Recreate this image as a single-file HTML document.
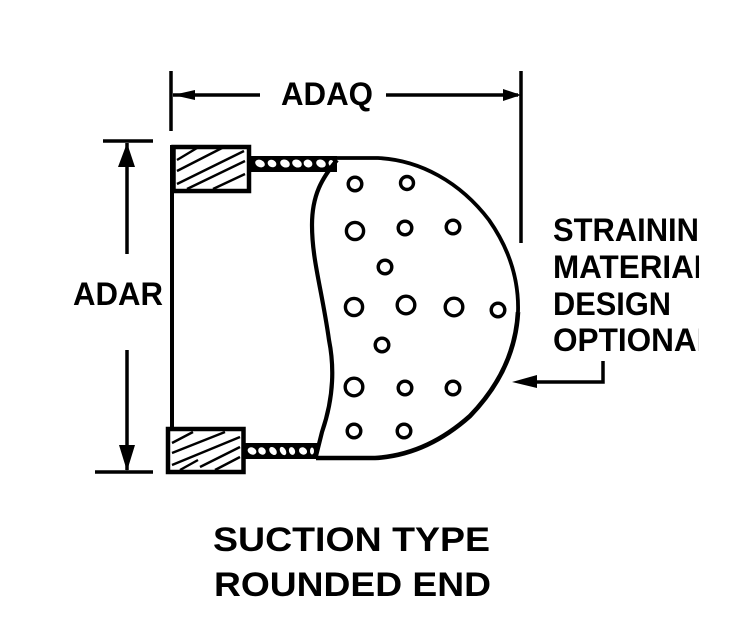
<!DOCTYPE html>
<html>
<head>
<meta charset="utf-8">
<style>
html,body{margin:0;padding:0;background:#fff;width:752px;height:633px;overflow:hidden}
svg{display:block}
text{font-family:"Liberation Sans",Arial,sans-serif;font-weight:700;font-size:32.500px;fill:#000}
</style>
</head>
<body>
<svg width="752" height="633" viewBox="0 0 752 633" xmlns="http://www.w3.org/2000/svg">
<defs>
<clipPath id="c"><rect x="540" y="200" width="159" height="170"/></clipPath>
</defs>

<!-- top dimension -->
<path d="M171 71V131M521 71V243" stroke="#000" stroke-width="3.500" fill="none"/>
<path d="M173 95H260M386 95H518" stroke="#000" stroke-width="3.500" fill="none"/>
<path d="M173 95L195 90V100ZM521 95L503 89V101Z" fill="#000"/>

<!-- left dimension -->
<path d="M103 141H153M95 472H153" stroke="#000" stroke-width="3.500" fill="none"/>
<path d="M127 143V254M127 350V470" stroke="#000" stroke-width="3.500" fill="none"/>
<path d="M127 143L118 167H135ZM127 471L119 445H135Z" fill="#000"/>

<!-- left wall -->
<path d="M172 145V430M171 430L168 472" stroke="#000" stroke-width="4" fill="none"/>

<!-- top hatched block -->
<rect x="173.500" y="147" width="75.500" height="44" fill="#fff" stroke="#000" stroke-width="4.500"/>
<g stroke="#000" stroke-width="2.400" fill="none">
<path d="M177 160L197 148M177 171L222 148M177 184L244 151M187 189L245 161M213 189L245 174"/>
</g>

<!-- bottom hatched block -->
<rect x="168" y="429" width="75.500" height="43" fill="#fff" stroke="#000" stroke-width="4.500"/>
<g stroke="#000" stroke-width="2.400" fill="none">
<path d="M172 443L193 432M172 453L225 432M172 465L240 437M180 470L198 460M200 467L240 447M215 470L240 457"/>
</g>

<!-- screen edge bands -->
<rect x="250" y="156" width="87" height="16" fill="#000"/>
<g fill="#fff">
<ellipse cx="260" cy="163.500" rx="5" ry="3.600" transform="rotate(25 260 163.500)"/>
<ellipse cx="272" cy="163.500" rx="4.500" ry="3.600" transform="rotate(25 272 163.500)"/>
<ellipse cx="285" cy="163.500" rx="5" ry="3.800" transform="rotate(25 285 163.500)"/>
<ellipse cx="297" cy="163.500" rx="5" ry="3.800" transform="rotate(25 297 163.500)"/>
<ellipse cx="308" cy="163.500" rx="4.500" ry="3.800" transform="rotate(25 308 163.500)"/>
<ellipse cx="321" cy="163.500" rx="5" ry="3.800" transform="rotate(25 321 163.500)"/>
<ellipse cx="331" cy="163" rx="2.500" ry="3"/>
</g>
<rect x="244" y="443" width="74" height="16" fill="#000"/>
<g fill="#fff">
<ellipse cx="252" cy="451" rx="4.500" ry="3.500" transform="rotate(25 252 451)"/>
<ellipse cx="262" cy="451" rx="4" ry="3.500" transform="rotate(40 262 451)"/>
<ellipse cx="273" cy="451" rx="4.500" ry="3.200" transform="rotate(50 273 451)"/>
<ellipse cx="283" cy="451" rx="4.500" ry="2.800" transform="rotate(60 283 451)"/>
<ellipse cx="292" cy="451" rx="4" ry="3" transform="rotate(70 292 451)"/>
<ellipse cx="303" cy="451" rx="4.200" ry="3.500" transform="rotate(30 303 451)"/>
<ellipse cx="312" cy="451" rx="2" ry="3.500"/>
</g>

<!-- rounded strainer -->
<path d="M336 158H378C420 160 460 182 489 220C510 250 519 280 518 312" fill="none" stroke="#000" stroke-width="3.800"/>
<path d="M518 312C516 350 500 385 470 416C442 441 410 456 375 458H316" fill="none" stroke="#000" stroke-width="4.600"/>
<path d="M337 160C322 178 312 195 312 225C312 260 322 290 329 340C335 370 333 400 322 432L316 456" fill="none" stroke="#000" stroke-width="4.200"/>

<!-- holes -->
<g fill="#fff" stroke="#000" stroke-width="3.400">
<circle cx="355" cy="184" r="6.800"/><circle cx="407" cy="183" r="6.500"/>
<circle cx="355" cy="231" r="8.600"/><circle cx="405" cy="228" r="6.800"/><circle cx="453" cy="227" r="6.800"/>
<circle cx="385" cy="267" r="6.800"/>
<circle cx="354" cy="307" r="8.600"/><circle cx="406" cy="305" r="8.800"/><circle cx="454" cy="307" r="8.800"/><circle cx="498" cy="310" r="6.800"/>
<circle cx="382" cy="345" r="6.800"/>
<circle cx="354" cy="387" r="8.800"/><circle cx="405" cy="388" r="6.800"/><circle cx="453" cy="388" r="6.800"/>
<circle cx="354" cy="431" r="6.800"/><circle cx="404" cy="431" r="6.800"/>
</g>

<!-- pointer -->
<path d="M603 361V382H535" stroke="#000" stroke-width="3.500" fill="none"/>
<path d="M512 382L537 375V388Z" fill="#000"/>

<!-- labels -->
<text x="281" y="105" textLength="92" lengthAdjust="spacingAndGlyphs">ADAQ</text>
<text x="73" y="305" textLength="90" lengthAdjust="spacingAndGlyphs">ADAR</text>
<g clip-path="url(#c)">
<text x="553" y="241" textLength="170" lengthAdjust="spacingAndGlyphs">STRAINING</text>
<text x="553" y="278" textLength="160" lengthAdjust="spacingAndGlyphs">MATERIAL</text>
<text x="553" y="315" textLength="118" lengthAdjust="spacingAndGlyphs">DESIGN</text>
<text x="553" y="351" textLength="163" lengthAdjust="spacingAndGlyphs">OPTIONAL</text>
</g>
<text x="213" y="551" textLength="277" lengthAdjust="spacingAndGlyphs" style="font-size:34.500px">SUCTION TYPE</text>
<text x="214" y="596" textLength="277" lengthAdjust="spacingAndGlyphs" style="font-size:34.500px">ROUNDED END</text>
</svg>
</body>
</html>
